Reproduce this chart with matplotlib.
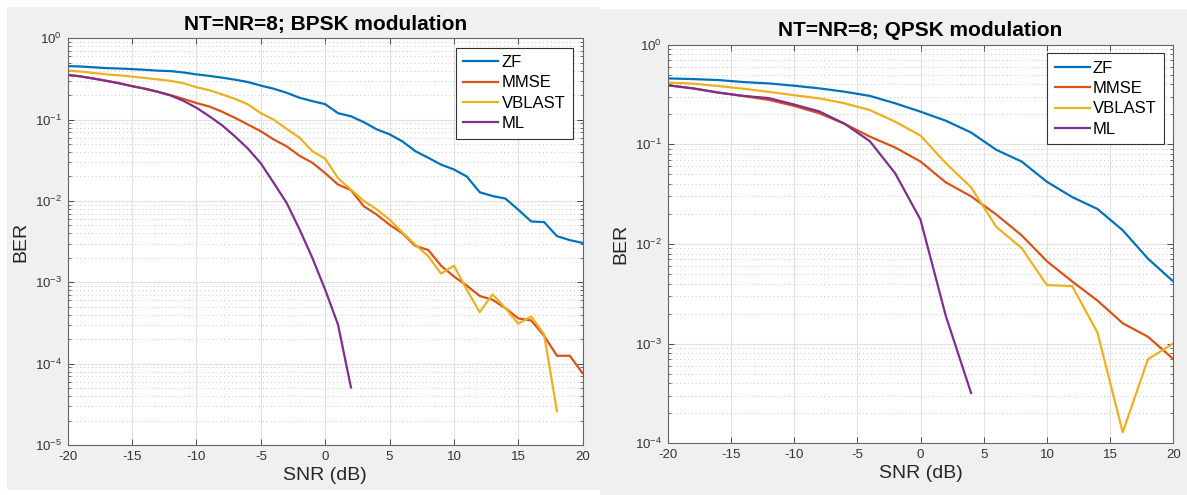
import numpy as np
import matplotlib.pyplot as plt
from matplotlib.patches import Rectangle
from matplotlib.ticker import LogLocator, NullFormatter, MultipleLocator

plt.rcParams['font.family'] = ['Liberation Sans', 'DejaVu Sans']
plt.rcParams['axes.unicode_minus'] = False

# BPSK data (1 dB step)
snr_bpsk = np.arange(-20, 21)
ber_zf_bpsk = [0.455, 0.45, 0.44, 0.43, 0.425, 0.418, 0.41, 0.40, 0.395, 0.38,
               0.36, 0.345, 0.328, 0.31, 0.29, 0.262, 0.24, 0.214, 0.186, 0.169,
               0.155, 0.12, 0.11, 0.093, 0.076, 0.066, 0.054, 0.041, 0.034, 0.028,
               0.0244, 0.020, 0.0128, 0.0115, 0.0107, 0.0078, 0.0056, 0.0055, 0.0037, 0.0033,
               0.00305]
ber_mmse_bpsk = [0.355, 0.34, 0.32, 0.30, 0.28, 0.258, 0.24, 0.22, 0.2, 0.18,
                 0.16, 0.145, 0.125, 0.105, 0.087, 0.072, 0.057, 0.047, 0.036, 0.0295,
                 0.022, 0.0159, 0.0136, 0.0086, 0.0068, 0.0051, 0.004, 0.0028, 0.0025, 0.0016,
                 0.00118, 0.00091, 0.00068, 0.00061, 0.00048, 0.00036, 0.00034, 0.00022, 0.000125, 0.000125,
                 7.6e-5]
ber_vblast_bpsk = [0.40, 0.39, 0.375, 0.36, 0.35, 0.338, 0.325, 0.312, 0.3, 0.28,
                   0.25, 0.23, 0.204, 0.18, 0.154, 0.12, 0.1, 0.077, 0.06, 0.041,
                   0.033, 0.019, 0.0138, 0.010, 0.0079, 0.0059, 0.0041, 0.0029, 0.0021, 0.00128,
                   0.0016, 0.00081, 0.00043, 0.00071, 0.00048, 0.00031, 0.00038, 0.00023, 2.6e-5]
snr_vblast_bpsk = np.arange(-20, 19)
snr_ml_bpsk = np.arange(-20, 3)
ber_ml_bpsk = [0.355, 0.34, 0.32, 0.30, 0.28, 0.258, 0.24, 0.22, 0.198, 0.17,
               0.14, 0.11, 0.085, 0.062, 0.044, 0.029, 0.0167, 0.0095, 0.0045, 0.002,
               0.00081, 0.0003, 5.1e-5]

# QPSK data (2 dB step)
snr_qpsk = np.arange(-20, 21, 2)
ber_zf_qpsk = [0.457, 0.45, 0.44, 0.42, 0.407, 0.386, 0.363, 0.336, 0.305, 0.257,
               0.212, 0.172, 0.131, 0.0878, 0.067, 0.042, 0.0295, 0.0224, 0.0137, 0.0071,
               0.0042]
ber_mmse_qpsk = [0.39, 0.363, 0.329, 0.304, 0.278, 0.242, 0.204, 0.16, 0.119, 0.0926,
                 0.067, 0.0414, 0.030, 0.0197, 0.0122, 0.0067, 0.0042, 0.0027, 0.0016, 0.00117,
                 0.0007]
ber_vblast_qpsk = [0.415, 0.405, 0.383, 0.36, 0.335, 0.31, 0.288, 0.257, 0.22, 0.168,
                   0.122, 0.0645, 0.037, 0.0148, 0.0091, 0.00386, 0.00377, 0.00129, 0.000129, 0.0007,
                   0.001]
snr_ml_qpsk = np.arange(-20, 5, 2)
ber_ml_qpsk = [0.39, 0.363, 0.33, 0.305, 0.29, 0.25, 0.213, 0.16, 0.107, 0.051,
               0.0175, 0.0019, 0.00032]

colors = ['#0072BD', '#D95319', '#EDB120', '#7E2F8E']
labels = ['ZF', 'MMSE', 'VBLAST', 'ML']

fig = plt.figure(figsize=(11.87, 4.95), dpi=100)
fig.patch.set_facecolor('white')
W, H = 1187, 495
# grey figure panels like the matlab windows
fig.patches.append(Rectangle((7 / W, 5 / H), 593 / W, 483 / H, transform=fig.transFigure,
                             facecolor='#f0f0f0', edgecolor='none', zorder=-10))
fig.patches.append(Rectangle((600 / W, 0), 587 / W, 486 / H, transform=fig.transFigure,
                             facecolor='#f0f0f0', edgecolor='none', zorder=-10))

ax1 = fig.add_axes([67.7 / W, 1 - 445 / H, 515 / W, 406.7 / H])
ax2 = fig.add_axes([667.7 / W, 1 - 443.3 / H, 505.6 / W, 398.8 / H])


def style(ax, ymin, title, anchor):
    ax.set_yscale('log')
    ax.set_xlim(-20, 20)
    ax.set_ylim(ymin, 1)
    ax.xaxis.set_major_locator(MultipleLocator(5))
    ax.yaxis.set_major_locator(LogLocator(base=10, numticks=10))
    ax.yaxis.set_minor_locator(LogLocator(base=10, subs=np.arange(2, 10), numticks=10))
    ax.yaxis.set_minor_formatter(NullFormatter())
    ax.grid(True, which='major', color='#e2e2e2', lw=0.8, ls='-')
    ax.grid(True, which='minor', axis='y', color='#c8c8c8', lw=0.7, ls=(0, (1, 3)))
    ax.set_axisbelow(True)
    ax.tick_params(which='both', direction='in', top=True, right=True,
                   labelsize=9.5, colors='#333333', pad=4)
    ax.tick_params(which='major', length=4, width=0.6)
    ax.tick_params(which='minor', length=2, width=0.5)
    for s in ax.spines.values():
        s.set_color('#666666')
        s.set_linewidth(0.8)
    ax.set_title(title, fontsize=15, fontweight='bold', pad=6)
    ax.set_xlabel('SNR (dB)', fontsize=14, color='#262626', labelpad=3)
    ax.set_ylabel('BER', fontsize=14, color='#262626', labelpad=4)
    leg = ax.legend(loc='upper right', bbox_to_anchor=anchor, borderaxespad=0,
                    fontsize=12, frameon=True, fancybox=False, framealpha=1,
                    edgecolor='#333333', handlelength=2.1, handletextpad=0.2,
                    labelspacing=0.32, borderpad=0.45)
    leg.get_frame().set_linewidth(0.8)


lw = 1.6
ax1.plot(snr_bpsk, ber_zf_bpsk, color=colors[0], lw=lw, label=labels[0])
ax1.plot(snr_bpsk, ber_mmse_bpsk, color=colors[1], lw=lw, label=labels[1])
ax1.plot(snr_vblast_bpsk, ber_vblast_bpsk, color=colors[2], lw=lw, label=labels[2])
ax1.plot(snr_ml_bpsk, ber_ml_bpsk, color=colors[3], lw=lw, label=labels[3])
style(ax1, 1e-5, 'NT=NR=8; BPSK modulation', (0.981, 0.977))

ax2.plot(snr_qpsk, ber_zf_qpsk, color=colors[0], lw=lw, label=labels[0])
ax2.plot(snr_qpsk, ber_mmse_qpsk, color=colors[1], lw=lw, label=labels[1])
ax2.plot(snr_qpsk, ber_vblast_qpsk, color=colors[2], lw=lw, label=labels[2])
ax2.plot(snr_ml_qpsk, ber_ml_qpsk, color=colors[3], lw=lw, label=labels[3])
style(ax2, 1e-4, 'NT=NR=8; QPSK modulation', (0.982, 0.978))

fig.savefig('out.png', dpi=100)
